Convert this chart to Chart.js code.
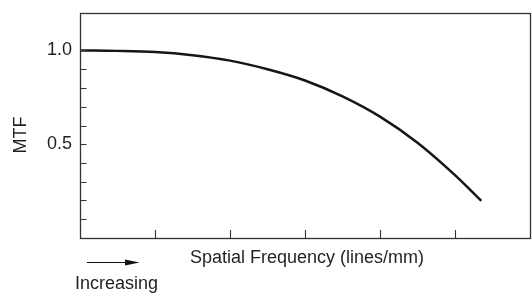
<!DOCTYPE html>
<html><head><meta charset="utf-8">
<script src="https://cdn.jsdelivr.net/npm/chart.js@4/dist/chart.umd.min.js"></script>
<style>html,body{margin:0;padding:0;background:#fff}#wrap{width:532px;height:294px}</style>
</head><body><div id="wrap"><canvas id="c" width="532" height="294"></canvas></div>
<script>
// Data
const frequency = [0, 0.5, 1.0, 1.5, 2.0, 2.5, 3.0, 3.5, 4.0, 4.5, 5.0, 5.35];
const mtf       = [1.0, 0.998, 0.992, 0.975, 0.946, 0.900, 0.840, 0.755, 0.647, 0.508, 0.335, 0.198];
const yTickValues = [0.1, 0.2, 0.3, 0.4, 0.5, 0.6, 0.7, 0.8, 0.9, 1.0];
const yLabeledTicks = [0.5, 1.0];
const yLabelTexts = ['0.5', '1.0'];
const xTickValues = [1, 2, 3, 4, 5];
const xTitle = 'Spatial Frequency (lines/mm)';
const yTitle = 'MTF';
const arrowNote = 'Increasing';

const FONT = '"Liberation Sans", Arial, Helvetica, sans-serif';
const TEXT = '#231f20';

const framePlugin = {
  id: 'frame',
  afterDraw(chart) {
    const ctx = chart.ctx, a = chart.chartArea;
    const xs = chart.scales.x, ys = chart.scales.y;
    ctx.save();
    ctx.strokeStyle = '#333';
    ctx.lineWidth = 1.3;
    ctx.strokeRect(Math.round(a.left) + 0.5, Math.round(a.top) + 0.5,
                   Math.round(a.right - a.left), Math.round(a.bottom - a.top));
    ctx.lineWidth = 1.1;
    ctx.beginPath();
    yTickValues.forEach(v => {
      const y = Math.round(ys.getPixelForValue(v)) + 0.5;
      ctx.moveTo(a.left, y); ctx.lineTo(a.left + 6.5, y);
    });
    xTickValues.forEach(v => {
      const x = Math.round(xs.getPixelForValue(v)) + 0.5;
      ctx.moveTo(x, a.bottom); ctx.lineTo(x, a.bottom - 8);
    });
    ctx.stroke();

    ctx.fillStyle = TEXT;
    ctx.font = '18px ' + FONT;
    ctx.textAlign = 'center';
    ctx.textBaseline = 'alphabetic';
    ctx.fillText(xTitle, (a.left + a.right) / 2 + 2, 262.5);

    ctx.save();
    ctx.translate(21.5, 135);
    ctx.rotate(-Math.PI / 2);
    ctx.textBaseline = 'middle';
    ctx.fillText(yTitle, 0, 0);
    ctx.restore();

    ctx.textAlign = 'left';
    ctx.fillText(arrowNote, 75, 289);

    // arrow
    ctx.strokeStyle = '#111';
    ctx.lineWidth = 1.2;
    ctx.beginPath();
    ctx.moveTo(87, 262.5); ctx.lineTo(128, 262.5);
    ctx.stroke();
    ctx.fillStyle = '#111';
    ctx.beginPath();
    ctx.moveTo(139.5, 262.5); ctx.lineTo(125, 259.5); ctx.lineTo(125, 265.5); ctx.closePath();
    ctx.fill();
    ctx.restore();
  }
};

new Chart(document.getElementById('c'), {
  type: 'scatter',
  data: {
    datasets: [{
      data: frequency.map((f, i) => ({ x: f, y: mtf[i] })),
      showLine: true,
      borderColor: '#161616',
      borderWidth: 2.5,
      pointRadius: 0,
      cubicInterpolationMode: 'monotone',
      fill: false
    }]
  },
  options: {
    responsive: false,
    animation: false,
    devicePixelRatio: 1,
    layout: { padding: { top: 13, right: 2, left: 0, bottom: 0 } },
    plugins: { legend: { display: false }, tooltip: { enabled: false } },
    scales: {
      x: {
        type: 'linear', min: 0, max: 6,
        grid: { display: false, drawTicks: false },
        border: { display: false },
        ticks: { display: false, stepSize: 1 },
        afterFit: s => { s.height = 56; s.paddingLeft = 0; s.paddingRight = 0; }
      },
      y: {
        type: 'linear', min: 0, max: 1.2,
        grid: { display: false, drawTicks: false },
        border: { display: false },
        ticks: {
          stepSize: 0.1,
          autoSkip: false,
          padding: 8,
          color: TEXT,
          font: { family: FONT, size: 18 },
          callback: v => {
            const i = yLabeledTicks.findIndex(t => Math.abs(t - v) < 1e-6);
            return i >= 0 ? yLabelTexts[i] : '';
          }
        },
        afterFit: s => { s.width = 80; s.paddingTop = 0; s.paddingBottom = 0; }
      }
    }
  },
  plugins: [framePlugin]
});
</script>
</body></html>
